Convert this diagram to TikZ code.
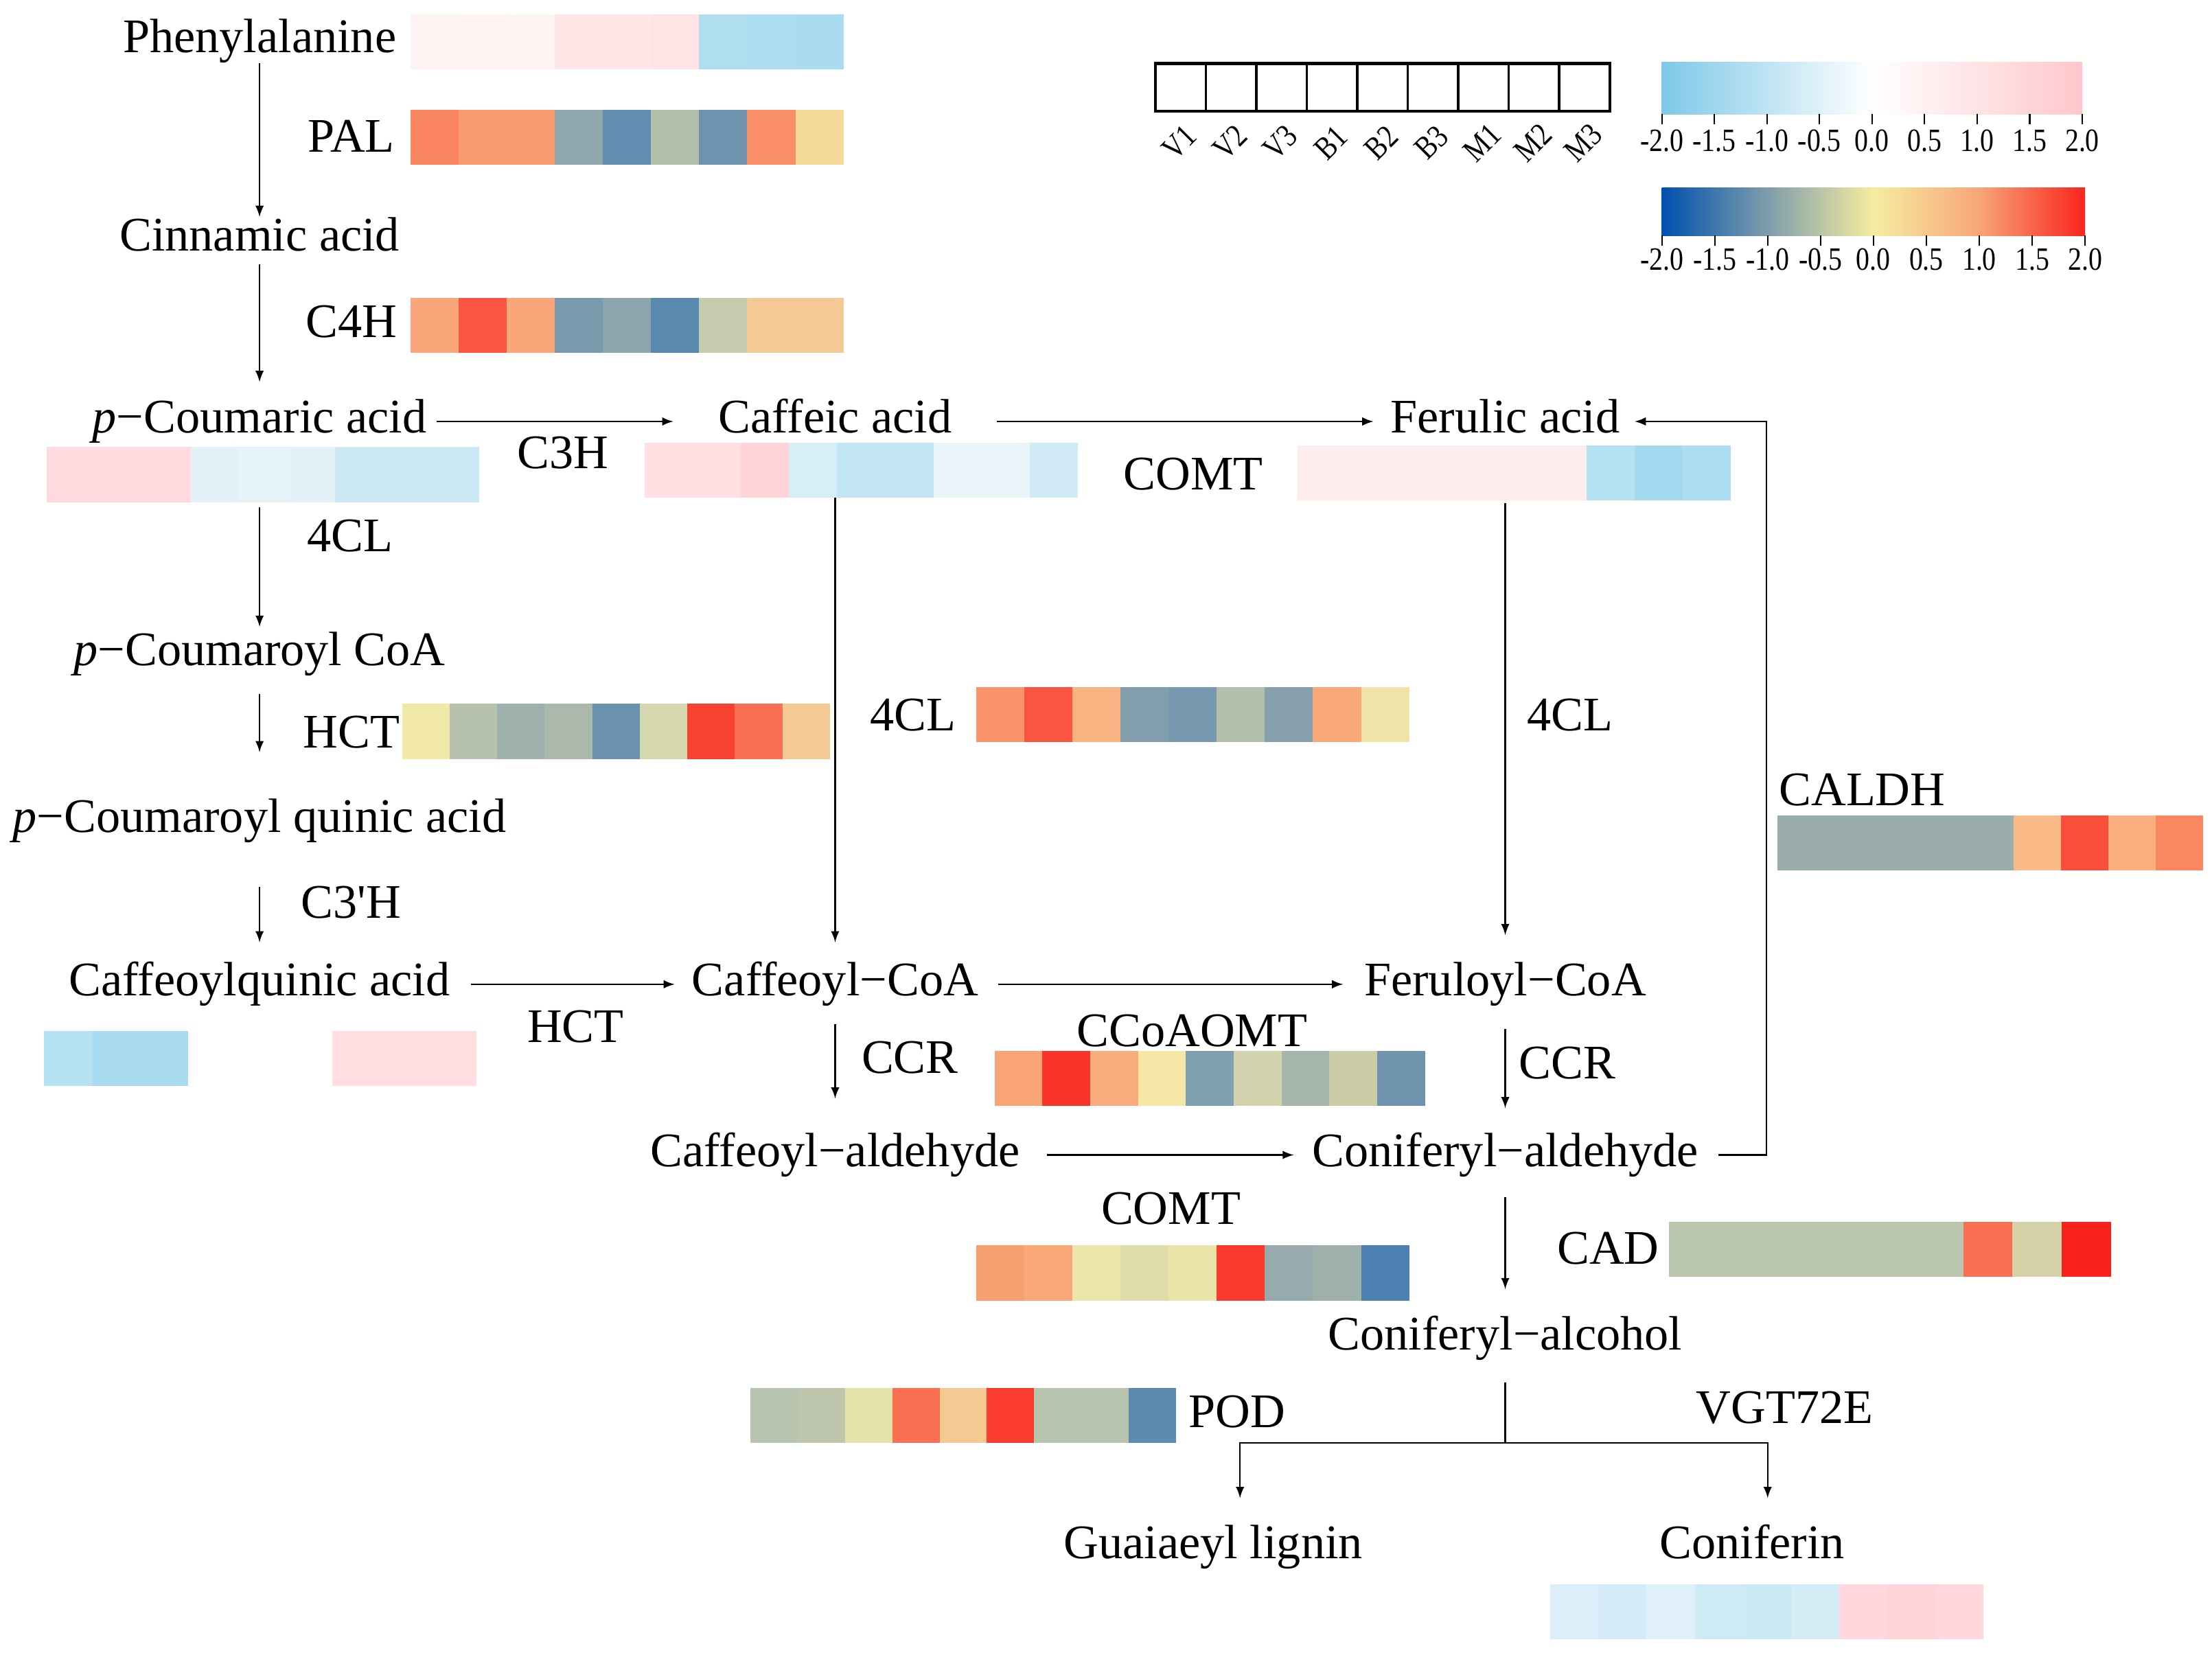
\documentclass[tikz,border=0pt]{standalone}
\usepackage{fontspec}
\setmainfont{Liberation Serif}
\newfontfamily\legfont{Liberation Serif}[FakeStretch=0.84]
\usetikzlibrary{arrows}
\tikzset{>=latex}
\tikzset{met/.style={anchor=base, inner sep=1pt, text height=14pt, text depth=4.4pt, font=\fontsize{20}{24}\selectfont},
  enz/.style={anchor=base, inner sep=0pt, font=\fontsize{20}{24}\selectfont},
  leg/.style={inner sep=0pt, font=\legfont\fontsize{13.5}{15}\selectfont},
  path/.style={->, line width=0.6pt}}

% name, left, top, cell width, colours
\newcommand{\heatrow}[5]{%
  \foreach \c [count=\i from 0] in {#5} {
    \definecolor{hc}{HTML}{\c}
    \fill[hc] ({#2+\i*#4},#3) rectangle ++(#4,39);
  }
  \coordinate (#1) at ({#2+4.5*#4},{#3+39});
}

\definecolor{barblue}{HTML}{7EC8E8}
\definecolor{barpink}{HTML}{FFC7CC}
\definecolor{bardeep}{HTML}{0050B0}
\definecolor{bargrey}{HTML}{7E9DAB}
\definecolor{baryell}{HTML}{F5EDA0}
\definecolor{barorng}{HTML}{F8A577}
\definecolor{barred}{HTML}{F9241C}

\begin{document}
\begin{tikzpicture}[x=0.02055cm, y=-0.02055cm]
\useasboundingbox (0,0) rectangle (1568,1173);

% heat maps
\heatrow{hphe}{291}{10}{34.1}{FFF4F3,FFF3F2,FFF4F3,FFE6E7,FFE6E7,FFE4E5,B0DEF1,ADDDF0,AADCF0}
\heatrow{hpal}{291}{78}{34.1}{FA8560,F99A6E,F99A70,8FA6AC,628DB0,B3BFAD,6F93AE,FA8E66,F5D99A}
\heatrow{hcfh}{291}{211}{34.1}{F9A77A,F95540,F9A77A,7A9AAD,8DA5AC,5A89B0,C5CCAE,F5C994,F5C994}
\heatrow{hpcou}{33}{317}{34.1}{FFDADF,FFDADF,FFDADF,E3F2F9,E6F4FA,E3F2F9,CBE8F4,CBE8F4,CBE8F4}
\heatrow{hcaff}{457}{314}{34.1}{FFE0E2,FFE0E2,FFD4D9,D8EEF7,C3E6F4,C3E6F4,EAF5FA,EAF5FA,D0EBF6}
\heatrow{hfer}{920}{316}{34.1}{FFECEC,FFECEC,FFECEC,FFECEC,FFECEC,FFECEC,B5E2F2,A3D9EE,ADDDF0}
\heatrow{hhct}{285}{499}{33.7}{F2E8A8,B6C2AE,9FB1AC,ABB9AC,6A91AE,D5D8AE,F9412F,FA7054,F5C994}
\heatrow{hfcl}{692}{487}{34.1}{F9946E,F95540,F9B282,829FAD,7699AF,B3BEAD,86A1AD,F9A87A,F0E4A8}
\heatrow{hcaldh}{1260}{578}{33.5}{9AADAC,9AADAC,9AADAC,9AADAC,9AADAC,F9BA88,F94E3A,F9AE7E,FA875F}
\heatrow{hcq}{31}{731}{34.1}{B5E1F1,A9DCF0,A9DCF0,FFFFFF,FFFFFF,FFFFFF,FFDDE0,FFDDE0,FFDDE0}
\heatrow{hccoa}{705}{745}{33.9}{F9A476,F93428,F9AC7E,F5E8A6,7E9FAD,D3D4AE,A5B5AC,CBCCA6,7093AE}
\heatrow{hcomt}{692}{883}{34.1}{F9A070,F9A87A,EDE5AA,E0DCA8,EAE4A8,F93A2C,97ABAC,9DB0AA,4D80B2}
\heatrow{hcad}{1183}{866}{34.8}{BBC6AE,BBC6AE,BBC6AE,BBC6AE,BBC6AE,BBC6AE,FA6E52,D5D2A8,F9221A}
\heatrow{hpod}{532}{984}{33.5}{B8C4AE,BEC6AE,E5E2AA,FA7052,F5C992,F93C2E,B8C4AE,B8C4AE,5D8AB0}
\heatrow{hconif}{1099}{1123}{34.1}{DCEEF9,D3ECF7,DFF0F8,CDEAF5,CCEAF5,D4EDF7,FFD7DC,FFD4D8,FFD7DC}

% metabolites
\node[met] (phe) at (184,37) {Phenylalanine};
\node[met] (cin) at (184,178) {Cinnamic acid};
\node[met] (pcou) at (184,307) {\textit{p}−Coumaric acid};
\node[met] (caff) at (592,307) {Caffeic acid};
\node[met] (fer) at (1067,307) {Ferulic acid};
\node[met] (pcoa) at (184,472) {\textit{p}−Coumaroyl CoA};
\node[met] (pcq) at (184,590) {\textit{p}−Coumaroyl quinic acid};
\node[met] (cq) at (184,706) {Caffeoylquinic acid};
\node[met] (caffcoa) at (592,706) {Caffeoyl−CoA};
\node[met] (fercoa) at (1067,706) {Feruloyl−CoA};
\node[met] (caffald) at (592,827) {Caffeoyl−aldehyde};
\node[met] (conald) at (1067,827) {Coniferyl−aldehyde};
\node[met] (conalc) at (1067,957) {Coniferyl−alcohol};
\node[met] (lig) at (860,1105) {Guaiaeyl lignin};
\node[met] (conif) at (1242,1105) {Coniferin};

% enzymes
\node[enz] (pal) at (249,108) {PAL};
\node[enz] (cfh) at (249,239) {C4H};
\node[enz] (cth) at (399,332) {C3H};
\node[enz] (comta) at (846,347) {COMT};
\node[enz] (fcla) at (248,391) {4CL};
\node[enz] (hcta) at (249,530) {HCT};
\node[enz] (cpth) at (249,651) {C3\textquotesingle H};
\node[enz] (hctb) at (408,739) {HCT};
\node[enz] (fclb) at (647,518) {4CL};
\node[enz] (fclc) at (1113,518) {4CL};
\node[enz] (caldh) at (1320,571) {CALDH};
\node[enz] (ccra) at (645,761) {CCR};
\node[enz] (ccoaomt) at (845,742) {CCoAOMT};
\node[enz] (ccrb) at (1111,765) {CCR};
\node[enz] (comtb) at (830,868) {COMT};
\node[enz] (cad) at (1140,896) {CAD};
\node[enz] (pod) at (877,1012) {POD};
\node[enz] (vgt) at (1265,1009) {VGT72E};

% reactions
\draw[path, shorten <=-1pt, shorten >=-1pt] (phe) -- (cin);
\draw[path, shorten >=6pt] (cin) -- (pcou);
\draw[path, shorten <=3pt, shorten >=17.5pt] (pcou) -- (caff);
\draw[path, shorten <=17.5pt, shorten >=6pt] (caff) -- (fer);
\draw[path, shorten <=2pt, shorten >=1pt] (pcou |- hpcou) -- (pcoa);
\draw[path, shorten <=6pt, shorten >=18pt] (pcoa) -- (pcq);
\draw[path, shorten <=17pt, shorten >=7pt] (pcq) -- (cq);
\draw[path, shorten <=7.6pt, shorten >=6pt] (cq) -- (caffcoa);
\draw[path, shorten >=7pt] (caff |- hcaff) -- (caffcoa);
\draw[path, shorten <=1pt, shorten >=10pt] (fer |- hfer) -- (fercoa);
\draw[path, shorten <=7pt, shorten >=7.6pt] (caffcoa) -- (fercoa);
\draw[path, shorten <=6pt, shorten >=13pt] (caffcoa) -- (caffald);
\draw[path, shorten <=8pt, shorten >=9pt] (fercoa) -- (conald);
\draw[path, shorten <=10pt, shorten >=6.4pt] (caffald) -- (conald);
\draw[path, shorten <=7pt, shorten >=10pt] (conald) -- (conalc);
\coordinate (turn) at (1252,827);
\draw[path, shorten <=7pt, shorten >=5pt] (conald.east) -- (conald.east -| turn) |- (fer.east);
\coordinate (br) at (1067,1023);
\coordinate (toLig) at (879,1062);
\coordinate (toConif) at (1253,1062);
\draw[line width=0.6pt, shorten <=8pt] (conalc) -- (br);
\draw[path] (br) -| (toLig);
\draw[path] (br) -| (toConif);

% legend
\draw[line width=1.2pt] (819,45) rectangle (1141,79);
\foreach \i in {1,...,8}
  \draw[line width=1pt] ({819+\i*35.78},45) -- ({819+\i*35.78},79);
\foreach \s [count=\i from 0] in {V1,V2,V3,B1,B2,B3,M1,M2,M3}
  \node[leg, rotate=45] (s\i) at ({836+\i*35.78},101) {\s};

\shade[left color=barblue, right color=barpink, middle color=white] (1178,44) rectangle (1476,81);
\shade[left color=bardeep, right color=baryell, middle color=bargrey] (1178,133) rectangle (1328,167);
\shade[left color=baryell, right color=barred, middle color=barorng] (1328,133) rectangle (1478,167);
\foreach \v [count=\i from 0] in {-2.0,-1.5,-1.0,-0.5,0.0,0.5,1.0,1.5,2.0} {
  \draw[line width=0.6pt] ({1178+\i*37.25},81) -- ++(0,7);
  \node[leg] (t\i) at ({1178+\i*37.25},100) {\v};
  \draw[line width=0.6pt] ({1178+\i*37.5},167) -- ++(0,7);
  \node[leg] (u\i) at ({1178+\i*37.5},184) {\v};
}

\end{tikzpicture}
\end{document}
